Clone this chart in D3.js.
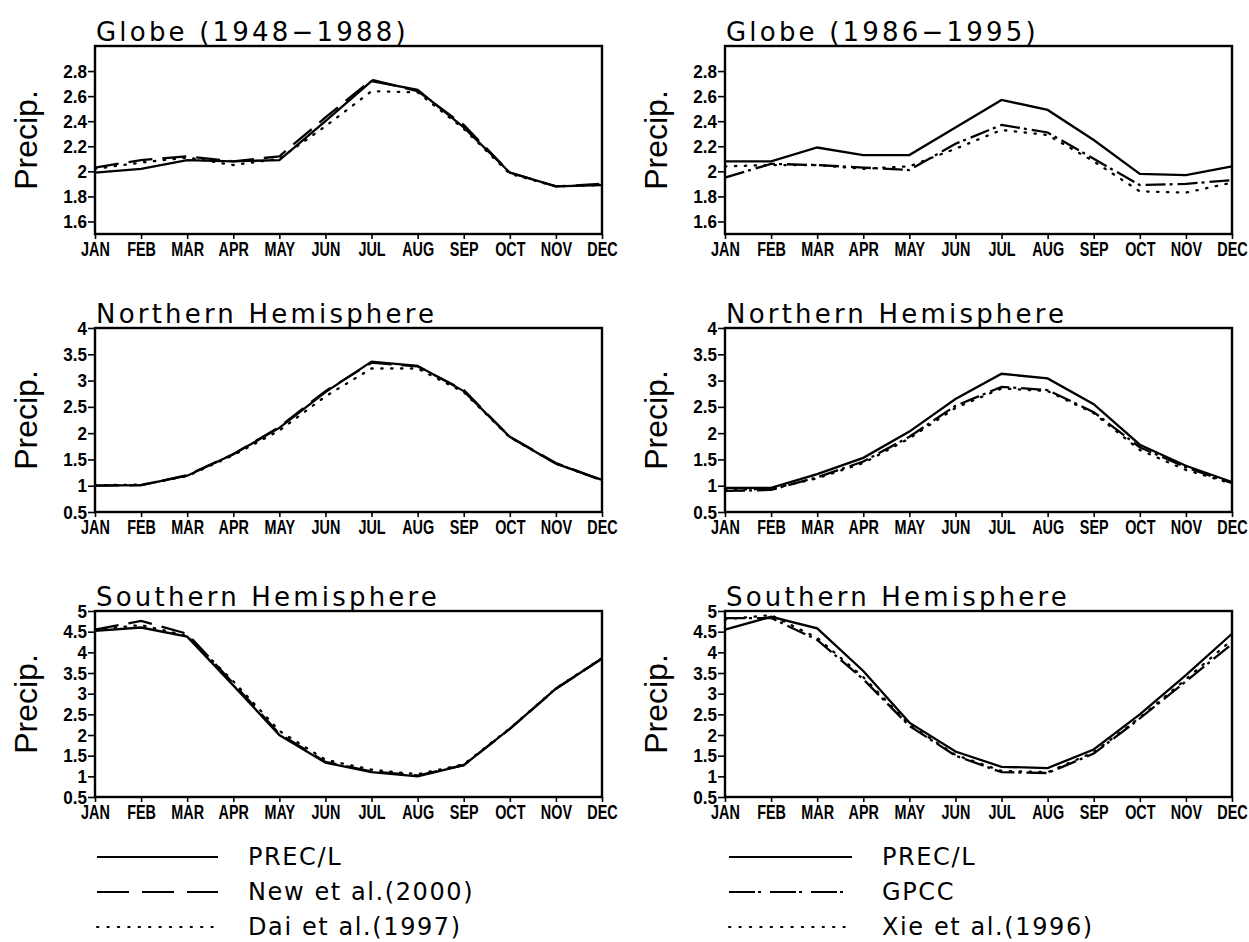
<!DOCTYPE html>
<html><head><meta charset="utf-8">
<script src="https://cdn.jsdelivr.net/npm/d3@7"></script>
<style>
html,body{margin:0;padding:0;background:#fff;}
svg{display:block;}
.tick text{font-family:"Liberation Sans",Arial,sans-serif;font-weight:bold;}
</style></head>
<body><svg id="chart" width="1249" height="942"></svg>
<script>
const months = ["JAN","FEB","MAR","APR","MAY","JUN","JUL","AUG","SEP","OCT","NOV","DEC"];

// Globe 1948-1988
const globeL_precl = [1.99,2.02,2.09,2.08,2.09,2.40,2.72,2.65,2.35,1.99,1.88,1.89];
const globeL_new   = [2.03,2.09,2.12,2.08,2.12,2.43,2.73,2.64,2.37,1.99,1.88,1.90];
const globeL_dai   = [2.02,2.07,2.11,2.05,2.10,2.36,2.64,2.63,2.34,1.98,1.88,1.89];
// Globe 1986-1995
const globeR_precl = [2.08,2.08,2.19,2.13,2.13,2.35,2.57,2.49,2.25,1.98,1.97,2.04];
const globeR_gpcc  = [1.95,2.06,2.05,2.03,2.01,2.22,2.37,2.31,2.10,1.89,1.90,1.93];
const globeR_xie   = [2.04,2.05,2.05,2.02,2.04,2.18,2.33,2.29,2.08,1.84,1.83,1.91];
// Northern Hemisphere
const nhL_precl = [1.00,1.01,1.19,1.60,2.10,2.78,3.36,3.28,2.80,1.93,1.42,1.11];
const nhL_new   = [1.00,1.01,1.20,1.60,2.12,2.80,3.34,3.27,2.82,1.93,1.43,1.10];
const nhL_dai   = [1.01,1.02,1.18,1.58,2.05,2.70,3.23,3.23,2.78,1.92,1.42,1.10];
const nhR_precl = [0.96,0.96,1.22,1.53,2.03,2.65,3.13,3.04,2.55,1.78,1.38,1.07];
const nhR_gpcc  = [0.90,0.92,1.16,1.46,1.93,2.52,2.88,2.82,2.40,1.73,1.35,1.05];
const nhR_xie   = [0.92,0.94,1.14,1.43,1.90,2.48,2.85,2.80,2.38,1.68,1.30,1.04];
// Southern Hemisphere
const shL_precl = [4.52,4.60,4.38,3.20,2.00,1.33,1.10,1.00,1.27,2.15,3.12,3.85];
const shL_new   = [4.55,4.76,4.45,3.25,2.03,1.35,1.12,1.02,1.27,2.15,3.12,3.85];
const shL_dai   = [4.55,4.66,4.40,3.30,2.10,1.40,1.16,1.05,1.29,2.16,3.13,3.86];
const shR_precl = [4.55,4.86,4.58,3.55,2.30,1.60,1.23,1.20,1.65,2.50,3.45,4.45];
const shR_gpcc  = [4.83,4.83,4.30,3.35,2.22,1.50,1.10,1.08,1.55,2.40,3.30,4.20];
const shR_xie   = [4.80,4.90,4.35,3.40,2.25,1.52,1.13,1.10,1.58,2.42,3.35,4.30];

const titles = ["Globe (1948\u22121988)","Globe (1986\u22121995)","Northern Hemisphere","Northern Hemisphere","Southern Hemisphere","Southern Hemisphere"];
const ticksGlobe = [1.6,1.8,2.0,2.2,2.4,2.6,2.8];
const tickLabelsGlobe = ["1.6","1.8","2","2.2","2.4","2.6","2.8"];
const ticksNH = [0.5,1,1.5,2,2.5,3,3.5,4];
const tickLabelsNH = ["0.5","1","1.5","2","2.5","3","3.5","4"];
const ticksSH = [0.5,1,1.5,2,2.5,3,3.5,4,4.5,5];
const tickLabelsSH = ["0.5","1","1.5","2","2.5","3","3.5","4","4.5","5"];
const legendLeft = ["PREC/L","New et al.(2000)","Dai et al.(1997)"];
const legendRight = ["PREC/L","GPCC","Xie et al.(1996)"];

const styles = {
  solid: null,
  newdash: "24,10",
  gpcc: "20,4,3,5",
  dot: "1.4,8.5"
};
const legendDash = {
  solid: null,
  newdash: "32,13",
  gpcc: "26,3,3,9",
  dot: "1.4,9"
};

const cols = [{x0:95,x1:602},{x0:725,x1:1232}];
const rows = [{y0:46,y1:234,dom:[1.5,3.0],ticks:ticksGlobe,labels:tickLabelsGlobe},
              {y0:328,y1:512,dom:[0.5,4],ticks:ticksNH,labels:tickLabelsNH},
              {y0:611,y1:797,dom:[0.5,5],ticks:ticksSH,labels:tickLabelsSH}];

const panels = [
  {r:0,c:0,series:[[globeL_dai,"dot"],[globeL_new,"newdash"],[globeL_precl,"solid"]]},
  {r:0,c:1,series:[[globeR_xie,"dot"],[globeR_gpcc,"gpcc"],[globeR_precl,"solid"]]},
  {r:1,c:0,series:[[nhL_dai,"dot"],[nhL_new,"newdash"],[nhL_precl,"solid"]]},
  {r:1,c:1,series:[[nhR_xie,"dot"],[nhR_gpcc,"gpcc"],[nhR_precl,"solid"]]},
  {r:2,c:0,series:[[shL_dai,"dot"],[shL_new,"newdash"],[shL_precl,"solid"]]},
  {r:2,c:1,series:[[shR_xie,"dot"],[shR_gpcc,"gpcc"],[shR_precl,"solid"]]}
];

const svg = d3.select("#chart");
const FONT = "'DejaVu Sans',sans-serif";

panels.forEach((p,i)=>{
  const C = cols[p.c], R = rows[p.r];
  const x = d3.scalePoint().domain(months).range([C.x0, C.x1]);
  const y = d3.scaleLinear().domain(R.dom).range([R.y1, R.y0]);
  const g = svg.append("g");

  // x axis
  const xa = g.append("g").attr("transform",`translate(0,${R.y1})`)
    .call(d3.axisBottom(x).tickSize(5).tickPadding(3));
  xa.select(".domain").remove();
  xa.selectAll("line").attr("stroke","#000").attr("stroke-width",1.6);
  xa.selectAll("text").attr("font-size",20).attr("fill","#000")
    .attr("transform","scale(0.72,1)");

  // y axis
  const ya = g.append("g").attr("transform",`translate(${C.x0},0)`)
    .call(d3.axisLeft(y).tickValues(R.ticks).tickFormat((d,j)=>R.labels[j]).tickSize(7).tickPadding(2));
  ya.select(".domain").remove();
  ya.selectAll("line").attr("stroke","#000").attr("stroke-width",1.6);
  ya.selectAll("text").attr("font-size",19).attr("fill","#000").attr("transform","scale(0.9,1)");

  // frame
  g.append("rect").attr("x",C.x0).attr("y",R.y0).attr("width",C.x1-C.x0).attr("height",R.y1-R.y0)
    .attr("fill","none").attr("stroke","#000").attr("stroke-width",2.4);

  // lines
  const line = d3.line().x((d,j)=>x(months[j])).y(d=>y(d));
  p.series.forEach(([vals,st])=>{
    g.append("path").datum(vals).attr("d",line).attr("fill","none")
      .attr("stroke","#000").attr("stroke-width",2.3)
      .attr("stroke-linecap",st==="dot"?"round":"butt")
      .attr("stroke-dasharray",styles[st]);
  });

  // title
  g.append("text").attr("x",C.x0+1).attr("y",R.y0-5).text(titles[i])
    .attr("font-family",FONT).attr("font-size",26).attr("letter-spacing",3.2).attr("fill","#000");

  // y label
  g.append("text").attr("transform",`translate(${C.x0-58},${(R.y0+R.y1)/2}) rotate(-90)`)
    .attr("text-anchor","middle").text("Precip.")
    .attr("font-family","'Liberation Sans',Arial,sans-serif").attr("font-size",32).attr("fill","#000");
});

// legends
const legY = [857,892,927];
const legStyles = [["solid","newdash","dot"],["solid","gpcc","dot"]];
[[legendLeft,97,218,248],[legendRight,729,852,882]].forEach(([labels,lx0,lx1,tx],k)=>{
  labels.forEach((lab,j)=>{
    const st = legStyles[k][j];
    svg.append("line").attr("x1",lx0).attr("x2",lx1).attr("y1",legY[j]).attr("y2",legY[j])
      .attr("stroke","#000").attr("stroke-width",2)
      .attr("stroke-linecap",st==="dot"?"round":"butt")
      .attr("stroke-dasharray",legendDash[st]);
    svg.append("text").attr("x",tx).attr("y",legY[j]+8).text(lab)
      .attr("font-family",FONT).attr("font-size",24).attr("letter-spacing",1.6).attr("fill","#000");
  });
});
</script></body></html>
